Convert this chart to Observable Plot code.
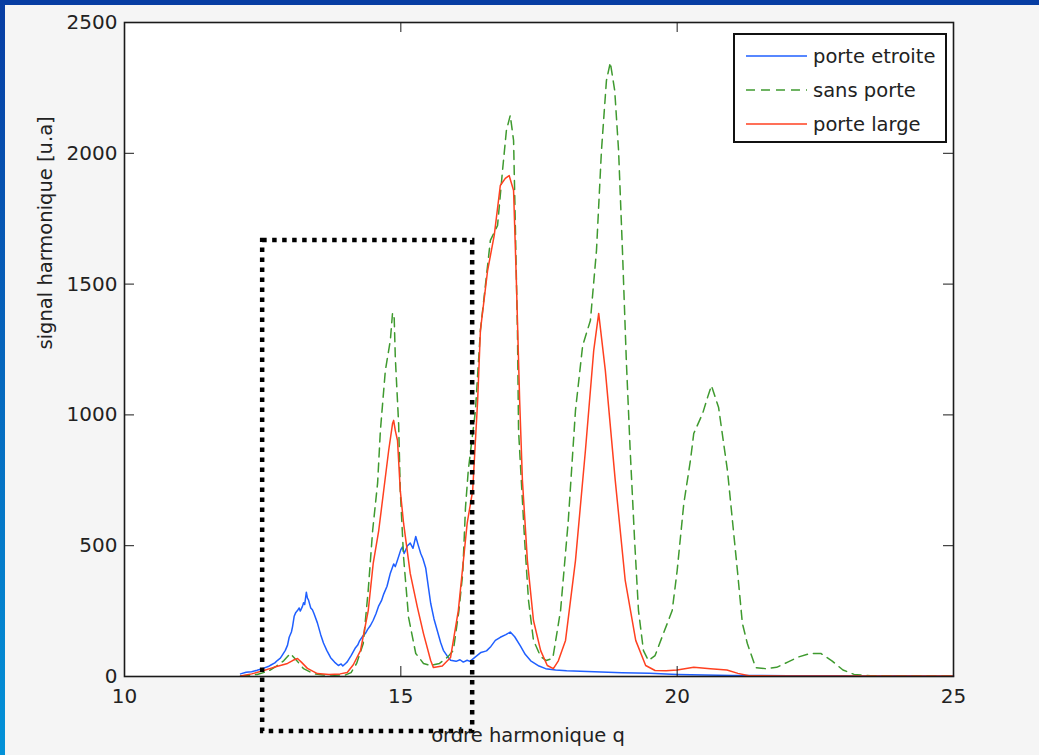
<!DOCTYPE html>
<html><head><meta charset="utf-8">
<script src="https://cdn.jsdelivr.net/npm/d3@7"></script>
<script src="https://cdn.jsdelivr.net/npm/@observablehq/plot@0.6"></script>
<style>
html,body{margin:0;padding:0;background:#f5f5f5;width:1039px;height:755px;overflow:hidden;font-family:"DejaVu Sans",sans-serif;}
#wrap{position:absolute;left:0;top:0;width:1039px;height:755px;}
#chart{position:absolute;left:0;top:0;}
#topbar{position:absolute;left:0;top:0;width:1039px;height:5px;background:#073da3;}
#leftbar{position:absolute;left:0;top:0;width:5px;height:755px;background:linear-gradient(#073da3,#0392d8);}
#legend{position:absolute;left:733px;top:33px;width:210px;height:106px;border:2px solid #111;background:#fff;}
#legend .row{position:absolute;left:0;height:34px;display:flex;align-items:center;}
#legend svg{margin-left:11px;margin-right:6px;}
#legend span{font-size:19.5px;color:#222;white-space:nowrap;}
</style>
</head><body>
<div id="wrap"><div id="chart"></div><div id="legend"></div><div id="topbar"></div><div id="leftbar"></div></div>
<script>
// ---- data (harmonic order q, signal in arbitrary units) ----
const seriesNames = ["porte etroite", "sans porte", "porte large"];
const seriesColors = ["#1f5fff", "#3f9a2f", "#ff4020"];
const seriesDash = [null, "9,6", null];

const qEtroite = [12.10,12.2,12.3,12.4,12.52,12.6,12.65,12.72,12.77,12.82,12.85,12.91,12.95,12.98,13.02,13.04,13.07,13.1,13.13,13.16,13.18,13.22,13.24,13.26,13.29,13.31,13.33,13.37,13.4,13.43,13.49,13.55,13.6,13.66,13.73,13.8,13.87,13.92,13.95,14.0,14.03,14.1,14.18,14.22,14.25,14.32,14.36,14.4,14.45,14.5,14.55,14.6,14.65,14.69,14.75,14.78,14.81,14.87,14.9,14.94,15.0,15.03,15.06,15.08,15.12,15.17,15.22,15.27,15.31,15.36,15.4,15.45,15.5,15.54,15.6,15.66,15.72,15.77,15.85,15.9,16.0,16.07,16.13,16.2,16.25,16.35,16.45,16.55,16.63,16.71,16.8,16.9,16.98,17.06,17.16,17.25,17.35,17.5,17.62,17.8,18.0,18.5,19.0,19.5,20.0,20.5,21.0,21.5,22.0,22.5,23.0,23.5,24.0,24.5,25.0];
const vEtroite = [10,16,18,24,32,38,44,52,62,70,80,100,120,150,170,190,230,245,252,262,250,268,282,275,322,300,292,262,255,240,205,160,128,100,72,55,42,48,40,50,56,80,110,120,135,157,165,180,195,215,240,270,290,315,345,370,395,430,420,445,485,495,470,480,500,510,490,535,505,470,450,415,340,280,220,175,130,100,75,62,58,64,55,62,58,75,92,98,115,138,150,160,170,152,118,85,60,40,30,25,22,18,14,12,8,6,4,4,3,3,3,2,3,2,2];

const qSans = [12.10,12.4,12.6,12.75,12.88,13.0,13.1,13.24,13.42,13.6,13.8,14.0,14.1,14.2,14.32,14.41,14.49,14.58,14.63,14.72,14.81,14.85,14.88,14.9,14.96,14.99,15.05,15.14,15.27,15.41,15.54,15.7,15.85,15.95,16.05,16.12,16.17,16.22,16.35,16.44,16.57,16.62,16.75,16.84,16.91,16.98,17.04,17.07,17.11,17.13,17.18,17.24,17.31,17.4,17.53,17.63,17.75,17.89,18.03,18.16,18.29,18.43,18.54,18.63,18.72,18.79,18.87,18.94,19.01,19.08,19.15,19.23,19.3,19.39,19.48,19.6,19.75,19.91,20.0,20.12,20.24,20.3,20.46,20.55,20.62,20.75,20.91,21.0,21.09,21.18,21.27,21.42,21.6,21.8,22.0,22.2,22.4,22.6,22.8,23.0,23.2,23.5,24.0,25.0];
const vSans = [2,8,20,40,60,88,65,30,11,6,5,6,15,50,126,330,558,740,940,1170,1285,1390,1370,1220,967,711,455,226,88,50,42,50,75,100,250,394,646,787,1017,1323,1571,1667,1724,1934,2087,2145,2049,1743,1323,940,749,520,291,138,76,61,70,252,596,1017,1265,1361,1628,2010,2278,2347,2240,2010,1628,1208,864,520,252,99,61,80,164,252,405,661,826,929,1005,1067,1112,1028,787,596,405,203,126,34,30,35,55,75,88,88,60,25,8,3,2,2];

const qLarge = [12.10,12.3,12.52,12.7,12.82,12.95,13.05,13.13,13.2,13.31,13.49,13.7,13.9,14.03,14.14,14.27,14.41,14.5,14.6,14.69,14.78,14.85,14.87,14.9,14.94,14.99,15.05,15.17,15.3,15.41,15.54,15.59,15.75,15.9,16.04,16.2,16.3,16.39,16.44,16.57,16.69,16.8,16.89,16.96,17.04,17.09,17.15,17.2,17.29,17.4,17.53,17.65,17.76,17.85,17.98,18.16,18.34,18.49,18.58,18.7,18.88,19.06,19.25,19.43,19.6,19.8,20.0,20.3,20.6,20.9,21.1,21.3,22.0,25.0];
const vLarge = [2,10,23,35,42,50,62,69,55,31,11,8,10,15,45,99,252,432,558,711,864,967,979,940,902,711,585,394,264,164,61,34,40,73,252,585,711,1055,1323,1552,1686,1877,1904,1915,1858,1514,1055,749,443,214,99,42,30,60,138,443,864,1246,1388,1170,749,367,138,42,23,22,25,35,30,25,12,3,2,2];

const xTicks = [10, 15, 20, 25];
const yTicks = [0, 500, 1000, 1500, 2000, 2500];
const xLabel = "ordre harmonique q";
const yLabel = "signal harmonique [u.a]";
// dotted highlight box (data coordinates: q from / to, signal from / to)
const boxQ = [12.5, 16.3];
const boxV = [-210, 1667];

// ---- build table ----
const qs = [qEtroite, qSans, qLarge];
const vs = [vEtroite, vSans, vLarge];
const rows = [];
seriesNames.forEach((name, k) => qs[k].forEach((q, i) => rows.push({serie: name, q, v: vs[k][i]})));
const box = [{x1: boxQ[0], x2: boxQ[1], y1: boxV[0], y2: boxV[1]}];

const W = 1039, H = 755, mL = 124, mR = 86, mT = 22, mB = 79;
const fw = W - mL - mR, fh = H - mT - mB, tick = 10;

const lineMarks = seriesNames.map((name, k) =>
  Plot.line(rows.filter(r => r.serie === name), {x: "q", y: "v", stroke: seriesColors[k], strokeWidth: 1.5, strokeDasharray: seriesDash[k], curve: "linear"}));

const chart = Plot.plot({
  width: W, height: H,
  marginLeft: mL, marginRight: mR, marginTop: mT, marginBottom: mB,
  x: {domain: [10, 25]},
  y: {domain: [0, 2500]},
  style: {background: "transparent", fontFamily: "DejaVu Sans, sans-serif", fontSize: "20px", color: "#222", overflow: "visible"},
  marks: [
    Plot.frame({fill: "white", stroke: null}),
    ...lineMarks,
    Plot.rect(box, {x1: "x1", x2: "x2", y1: "y1", y2: "y2", fill: "none", stroke: "#000", strokeWidth: 4.5, strokeDasharray: "4.5,5.5"}),
    Plot.frame({stroke: "#1a1a1a", strokeWidth: 1.6}),
    Plot.tickX(xTicks, {x: d => d, stroke: "#1a1a1a", insetTop: fh - tick}),
    Plot.tickX(xTicks, {x: d => d, stroke: "#1a1a1a", insetBottom: fh - tick}),
    Plot.tickY(yTicks, {y: d => d, stroke: "#1a1a1a", insetRight: fw - tick}),
    Plot.tickY(yTicks, {y: d => d, stroke: "#1a1a1a", insetLeft: fw - tick}),
    Plot.axisX({anchor: "bottom", ticks: xTicks, tickSize: 0, tickPadding: 12, tickFormat: d => String(d), label: null}),
    Plot.axisY({anchor: "left", ticks: yTicks, tickSize: 0, tickPadding: 7, tickFormat: d => String(d), label: null}),
    Plot.text([xLabel], {frameAnchor: "bottom", dy: 65, dx: -11, text: d => d, fill: "#222", fontSize: 19.5}),
    Plot.text([yLabel], {frameAnchor: "left", dx: -79, rotate: -90, text: d => d, fill: "#222", fontSize: 19.5})
  ]
});
document.getElementById("chart").appendChild(chart);

// ---- legend ----
const leg = document.getElementById("legend");
seriesNames.forEach((name, k) => {
  const row = document.createElement("div");
  row.className = "row";
  row.style.top = (4 + k * 34) + "px";
  row.innerHTML = `<svg width="61" height="6"><line x1="0" x2="61" y1="3" y2="3" stroke="${seriesColors[k]}" stroke-width="1.6" ${seriesDash[k] ? `stroke-dasharray="${seriesDash[k]}"` : ""}/></svg><span>${name}</span>`;
  leg.appendChild(row);
});
</script>
</body></html>
